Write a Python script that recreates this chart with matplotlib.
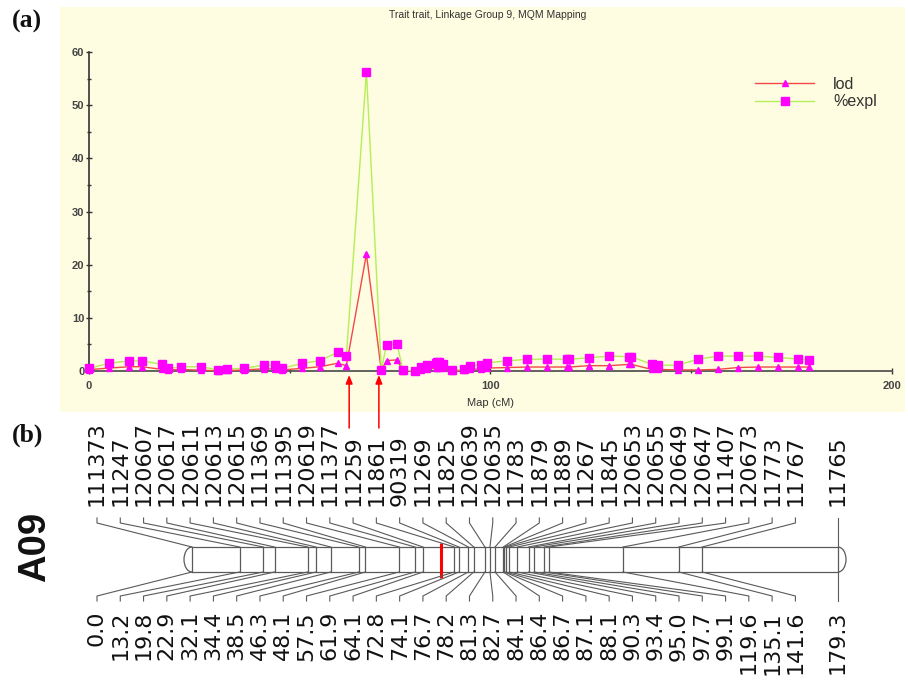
import numpy as np
import matplotlib
matplotlib.use('Agg')
import matplotlib.pyplot as plt
from matplotlib.patches import Rectangle, Arc
from matplotlib import font_manager

# ---------------- data ----------------
map_cm = [0, 5, 10, 13.2, 18.2, 19.8, 22.9, 27.9, 32.1, 34.4,
          38.5, 43.5, 46.3, 48.1, 53.1, 57.5, 61.9, 64.1, 69.1, 72.8,
          74.1, 76.7, 78.2, 81.3, 82.7, 84.1, 86.4, 86.7, 87.1, 88.1,
          90.3, 93.4, 95.0, 97.7, 99.1, 104.1, 109.1, 114.1, 119.1, 119.6,
          124.6, 129.6, 134.6, 135.1, 140.1, 141.6, 146.6, 151.6, 156.6, 161.6,
          166.6, 171.6, 176.6, 179.3]
pct_expl = [0.5, 1.45, 1.9, 1.9, 1.25, 0.5, 0.8, 0.8, 0.2, 0.4,
            0.5, 1.1, 1.1, 0.5, 1.45, 1.95, 3.5, 2.8, 56.3, 0.2,
            4.9, 5.1, 0.2, 0.05, 0.7, 1.1, 1.5, 1.7, 1.75, 1.4,
            0.2, 0.3, 0.95, 1.2, 1.55, 1.9, 2.2, 2.25, 2.2, 2.2,
            2.5, 2.8, 2.7, 2.7, 1.25, 1.1, 1.1, 2.2, 2.8, 2.8,
            2.8, 2.55, 2.25, 2.1]
lod = [0.25, 0.55, 0.8, 0.8, 0.3, 0.2, 0.3, 0.15, 0.05, 0.1,
       0.2, 0.4, 0.4, 0.2, 0.5, 0.8, 1.45, 1.0, 22.0, 0.1,
       1.95, 2.1, 0.05, 0.0, 0.2, 0.4, 0.55, 0.6, 0.6, 0.5,
       0.05, 0.1, 0.3, 0.4, 0.55, 0.65, 0.75, 0.75, 0.75, 0.75,
       1.0, 1.0, 1.25, 1.25, 0.3, 0.3, 0.2, 0.2, 0.3, 0.65,
       0.75, 0.75, 0.75, 0.75]

marker_names = ['111373', '11247', '120607', '120617', '120611', '120613', '120615',
                '111369', '111395', '120619', '111377', '11259', '11861', '90319',
                '11269', '11825', '120639', '120635', '11783', '11879', '11889',
                '11267', '11845', '120653', '120655', '120649', '120647', '111407',
                '120673', '11773', '11767', '11765']
marker_pos = [0.0, 13.2, 19.8, 22.9, 32.1, 34.4, 38.5, 46.3, 48.1, 57.5, 61.9,
              64.1, 72.8, 74.1, 76.7, 78.2, 81.3, 82.7, 84.1, 86.4, 86.7, 87.1,
              88.1, 90.3, 93.4, 95.0, 97.7, 99.1, 119.6, 135.1, 141.6, 179.3]
arrow_cm = [64.8, 72.2]

x_ticks = [0, 100, 200]
y_ticks = [0, 10, 20, 30, 40, 50, 60]

# ---------------- figure ----------------
W, H = 908, 683
fig = plt.figure(figsize=(W / 100, H / 100), dpi=100)
fig.patch.set_facecolor('white')


def fx(px):
    return px / W


def fy(py):
    return 1 - py / H


names = {f.name for f in font_manager.fontManager.ttflist}
narrow = 'Liberation Sans Narrow' if 'Liberation Sans Narrow' in names else 'Liberation Sans'
a09_size = 33 if narrow == 'Liberation Sans Narrow' else 27.5

# yellow panel background
fig.add_artist(Rectangle((fx(60), fy(412)), fx(905) - fx(60), fy(7) - fy(412),
                         transform=fig.transFigure, facecolor='#FEFDE1',
                         edgecolor='none', zorder=0))

# ---------------- (b) chromosome map ----------------
axb = fig.add_axes([0, 0, 1, 1])
axb.set_axis_off()
axb.patch.set_visible(False)
chr_left_px, chr_right_px = 192, 838
ppc = (chr_right_px - chr_left_px) / marker_pos[-1]
axb.set_xlim(-chr_left_px / ppc, (W - chr_left_px) / ppc)
axb.set_ylim(H, 0)

chr_top, chr_bot = 547, 572
line_c = '#5a5a5a'
end = marker_pos[-1]
axb.plot([0, end], [chr_top, chr_top], color=line_c, lw=0.9)
axb.plot([0, end], [chr_bot, chr_bot], color=line_c, lw=0.9)
for p in marker_pos:
    axb.plot([p, p], [chr_top, chr_bot], color=line_c, lw=0.9)
cap_w = 8 / ppc
mid = (chr_top + chr_bot) / 2
axb.add_patch(Arc((0, mid), 2 * cap_w, chr_bot - chr_top, theta1=90, theta2=270,
                  color=line_c, lw=0.9))
axb.add_patch(Arc((end, mid), 2 * cap_w, chr_bot - chr_top, theta1=-90, theta2=90,
                  color=line_c, lw=0.9))

peak_x = map_cm[int(np.argmax(lod))]
axb.plot([peak_x, peak_x], [543, 578], color='#ff0000', lw=2.2, solid_capstyle='butt')

first_col = (97 - chr_left_px) / ppc
col_step = 23.28 / ppc
lab_x = [first_col + i * col_step for i in range(len(marker_pos) - 1)] + [marker_pos[-1]]

for name, p, lx in zip(marker_names, marker_pos, lab_x):
    axb.plot([lx, lx, p], [518, 523, chr_top], color=line_c, lw=0.8)
    axb.plot([p, lx, lx], [chr_bot, 596, 601], color=line_c, lw=0.8)
    axb.text(lx, 506, name, rotation=90, ha='center', va='bottom', fontsize=16,
             family='DejaVu Sans', color='#111111')
    axb.text(lx, 611, f'{p:.1f}', rotation=90, ha='center', va='top', fontsize=16,
             family='DejaVu Sans', color='#111111')

fig.text(fx(35), fy(547), 'A09', rotation=90, ha='center', va='center',
         family=narrow, weight='bold', fontsize=a09_size, color='#111111')
fig.text(fx(12), fy(21), '(a)', ha='left', va='center', family='Liberation Serif',
         weight='bold', fontsize=18.5, color='#111111')
fig.text(fx(12), fy(435), '(b)', ha='left', va='center', family='Liberation Serif',
         weight='bold', fontsize=18.5, color='#111111')

# ---------------- (a) QTL plot ----------------
ax = fig.add_axes([fx(89), fy(371), fx(892) - fx(89), fy(52) - fy(371)])
ax.patch.set_visible(False)
mag = '#ff00ff'
ax.plot(map_cm, lod, color='#f24848', lw=1.0, marker='^', ms=5, mfc=mag, mec=mag,
        label='lod', clip_on=False, zorder=3)
ax.plot(map_cm, pct_expl, color='#b4ee58', lw=1.0, marker='s', ms=5.8, mfc=mag, mec=mag,
        label='%expl', clip_on=False, zorder=4)
ax.set_xlim(0, 200)
ax.set_ylim(0, 60)
for s in ['top', 'right']:
    ax.spines[s].set_visible(False)
ax.spines['left'].set_color('#333333')
ax.spines['left'].set_linewidth(1.2)
ax.spines['bottom'].set_color('#555555')
ax.spines['bottom'].set_linewidth(1.3)
ax.set_xticks(x_ticks)
ax.set_xticks([50, 150], minor=True)
ax.set_yticks(y_ticks)
ax.set_yticks([5, 15, 25, 35, 45, 55], minor=True)
ax.tick_params(which='both', direction='inout', color='#333333', width=1)
ax.tick_params(which='major', length=4.5)
ax.tick_params(which='minor', length=3)
ax.tick_params(axis='y', pad=1)
ax.tick_params(axis='x', pad=5)
for lab in ax.get_xticklabels() + ax.get_yticklabels():
    lab.set_fontfamily('Liberation Sans')
    lab.set_fontsize(8)
    lab.set_fontweight('bold')
    lab.set_color('#444444')

ax.set_xlabel('Map (cM)', fontsize=8, color='#333333', family='Liberation Sans')
ax.xaxis.set_label_coords(0.5, -(403 - 371) / 319)
ax.xaxis.label.set_va('center')
fig.text(fx(487.5), fy(15), 'Trait trait, Linkage Group 9, MQM Mapping', fontsize=7.5,
         color='#333333', family='Liberation Sans', ha='center', va='center')

leg = ax.legend(loc='upper left', bbox_to_anchor=(fx(755), fy(77)),
                bbox_transform=fig.transFigure, frameon=False,
                prop={'family': 'Liberation Sans', 'size': 11.5},
                handlelength=3.7, handletextpad=1.2, labelspacing=0.15,
                borderpad=0, borderaxespad=0, numpoints=1)
for t in leg.get_texts():
    t.set_color('#333333')

for a in arrow_cm:
    ax.annotate('', xy=(a, H - 375), xycoords=('data', 'figure pixels'),
                xytext=(a, H - 428), textcoords=('data', 'figure pixels'),
                arrowprops=dict(arrowstyle='-|>,head_length=0.5,head_width=0.2',
                                color='#ff0000', lw=1.1, shrinkA=0, shrinkB=0,
                                mutation_scale=10),
                annotation_clip=False)

fig.savefig('out.png', dpi=100)
